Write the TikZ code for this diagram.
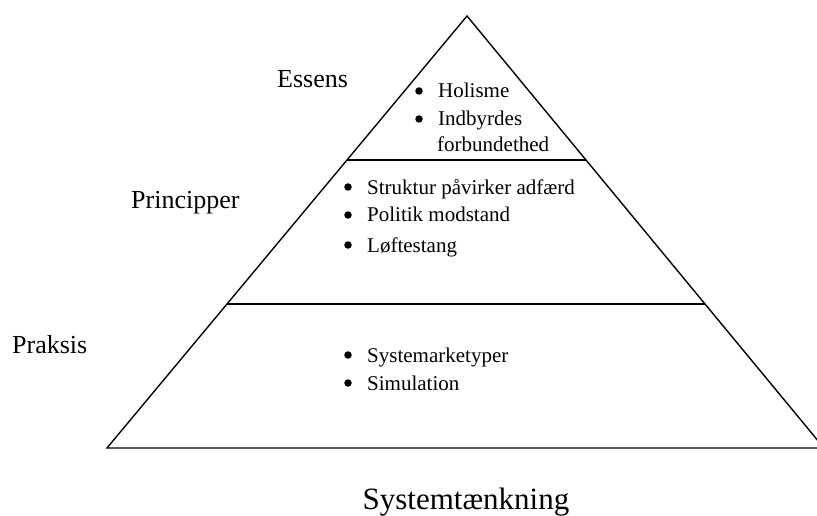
\documentclass[tikz,border=0pt]{standalone}
\usepackage{fontspec}
\setmainfont{Liberation Serif}
\usetikzlibrary{calc}
\begin{document}
\begin{tikzpicture}[x=1pt,y=-1pt,
  edge/.style={line width=1.4pt,line join=miter},
  level/.style={anchor=base west,inner sep=0pt,font=\fontsize{26}{30}\selectfont},
  item/.style={anchor=base west,inner sep=0pt,font=\fontsize{21}{25}\selectfont},
  dot/.style={circle,fill=black,inner sep=0pt,minimum size=7.5pt},
  title/.style={anchor=base,inner sep=0pt,font=\fontsize{31}{36}\selectfont}]
\useasboundingbox (0,0) rectangle (817,516);
\clip (0,0) rectangle (817,516);

% pyramid corners and the two dividing levels
\coordinate (apex) at (467,16);
\coordinate (bl) at (107,448);
\coordinate (br) at (824,448);
\coordinate (l1) at ($(apex)!0.3333!(bl)$);
\coordinate (r1) at ($(apex)!0.3333!(br)$);
\coordinate (l2) at ($(apex)!0.6667!(bl)$);
\coordinate (r2) at ($(apex)!0.6667!(br)$);

\draw[edge] (bl) -- (apex) -- (br) -- cycle;
\draw[edge] (l1) -- (r1);
\draw[edge] (l2) -- (r2);

% level names
\node[level] (essens) at (277,88) {Essens};
\node[level] (principper) at (131,208) {Principper};
\node[level] (praksis) at (12,353) {Praksis};

% top level (bullets sit 7pt above each baseline)
\node[dot] (b1) at (419,91) {};
\node[item] (t1) at (438,98) {Holisme};
\node[dot] (b2) at (419,119) {};
\node[item] (t2) at (438,126) {Indbyrdes};
\node[item] (t2b) at (437,152) {forbundethed};

% middle level
\node[dot] (b3) at (348,187) {};
\node[item] (t3) at (367,194) {Struktur påvirker adfærd};
\node[dot] (b4) at (348,215) {};
\node[item] (t4) at (367,222) {Politik modstand};
\node[dot] (b5) at (348,245) {};
\node[item] (t5) at (367,252) {Løftestang};

% bottom level
\node[dot] (b6) at (348,355) {};
\node[item] (t6) at (367,362) {Systemarketyper};
\node[dot] (b7) at (348,383) {};
\node[item] (t7) at (367,390) {Simulation};

\node[title] (caption) at (466,509) {Systemtænkning};
\end{tikzpicture}
\end{document}
